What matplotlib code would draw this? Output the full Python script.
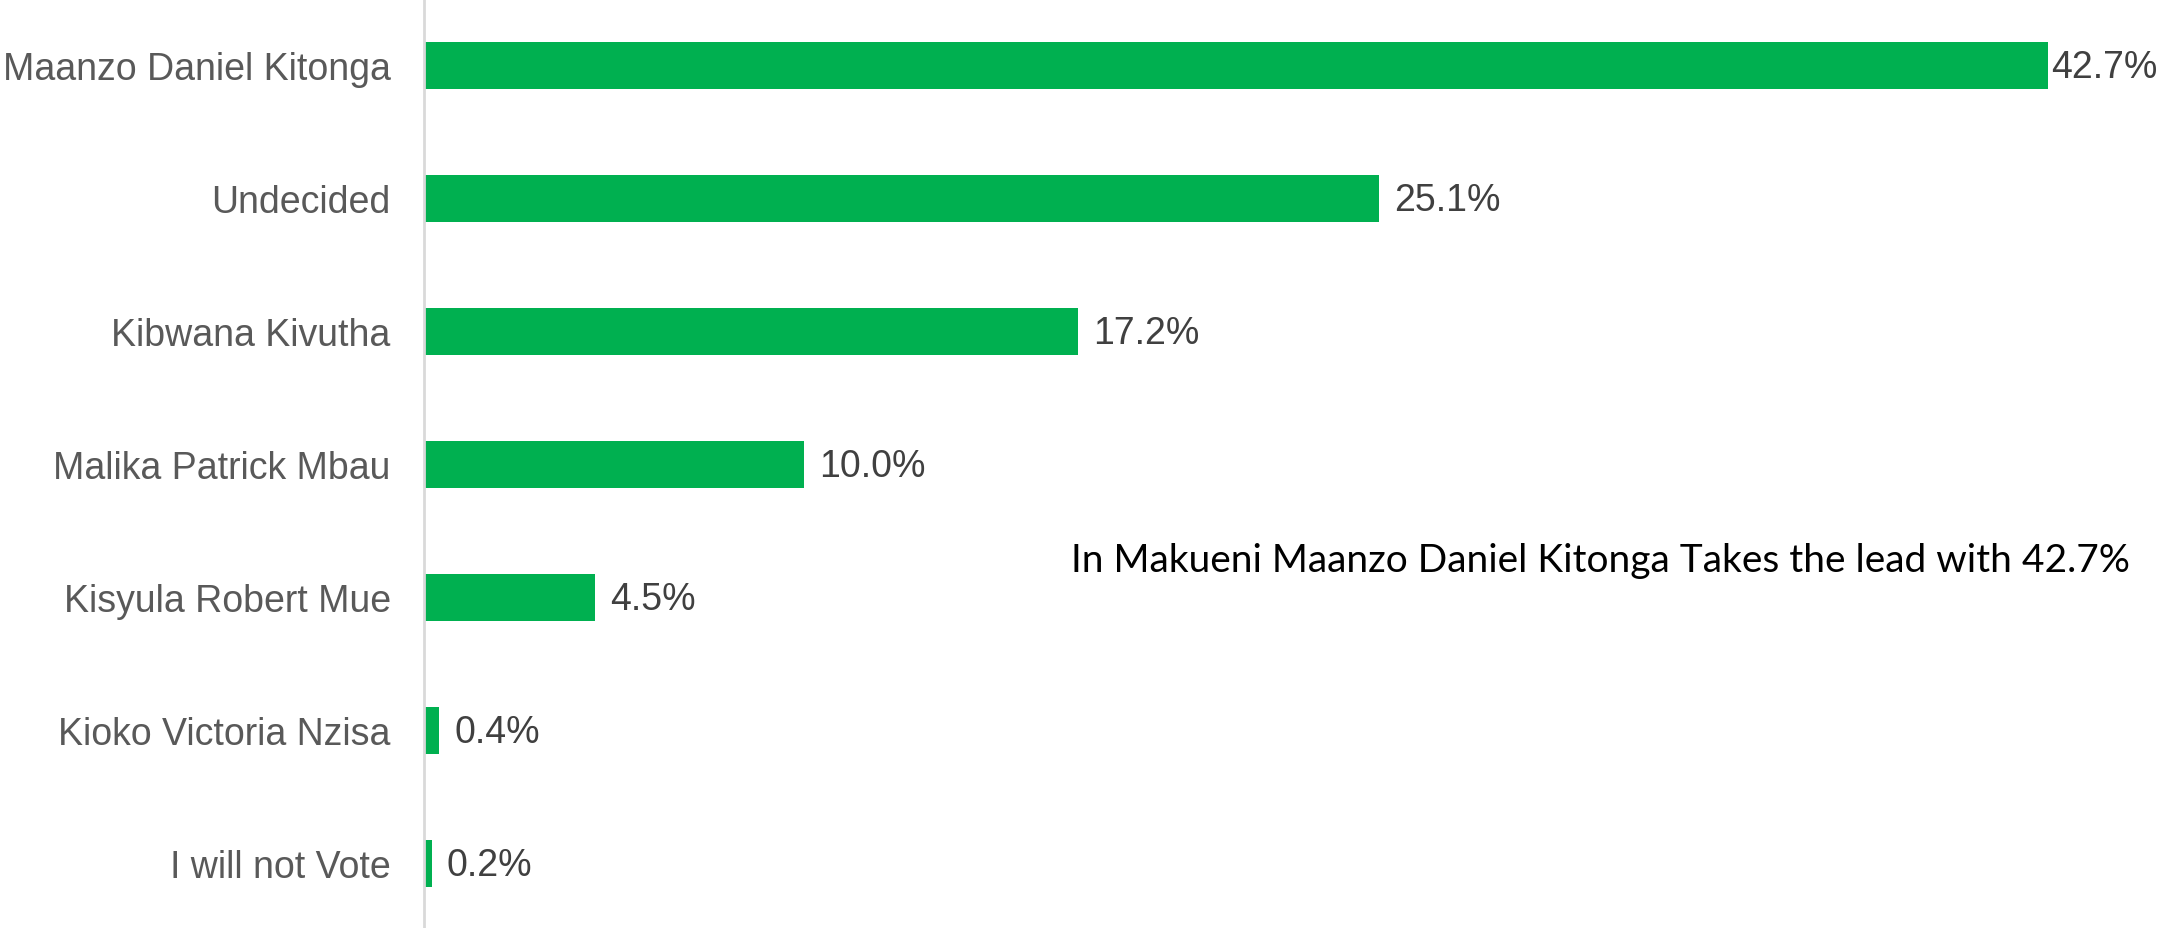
import matplotlib
matplotlib.use('Agg')
from matplotlib import pyplot as plt

candidates = ['Maanzo Daniel Kitonga', 'Undecided', 'Kibwana Kivutha', 'Malika Patrick Mbau',
              'Kisyula Robert Mue', 'Kioko Victoria Nzisa', 'I will not Vote']
shares = [42.7, 25.1, 17.2, 10.0, 4.5, 0.4, 0.2]
value_labels = ['42.7%', '25.1%', '17.2%', '10.0%', '4.5%', '0.4%', '0.2%']
note = 'In Makueni Maanzo Daniel Kitonga Takes the lead with 42.7%'

green = '#00b050'

fig = plt.figure(figsize=(21.59, 9.29), dpi=100)
ax = fig.add_axes([424 / 2159, 0, 1 - 424 / 2159, 1])

y = list(range(len(candidates)))
ax.barh(y, shares, height=0.353, color=green)
ax.set_ylim(len(candidates) - 0.515, -0.5)
ax.set_xlim(0, 1735 / 38.03)

ax.set_yticks(y)
ax.set_yticklabels(candidates, fontsize=27, color='#595959', family='Liberation Sans')
ax.tick_params(axis='y', length=0, pad=24)
ax.set_xticks([])

for side in ['top', 'right', 'bottom']:
	ax.spines[side].set_visible(False)
ax.spines['left'].set_color('#d9d9d9')
ax.spines['left'].set_linewidth(2)

# Подписи значений
for i, (val, lab) in enumerate(zip(shares, value_labels)):
	offset = 2 if i == 0 else 11
	ax.annotate(lab, xy=(val, i), xytext=(offset, -1), textcoords='offset points',
				ha='left', va='center', fontsize=27, color='#404040', family='Liberation Sans')

ax.text(17.0, 3.72, note, ha='left', va='center', fontsize=28, color='black', family='Lato')

fig.savefig('out.png', dpi=100)
